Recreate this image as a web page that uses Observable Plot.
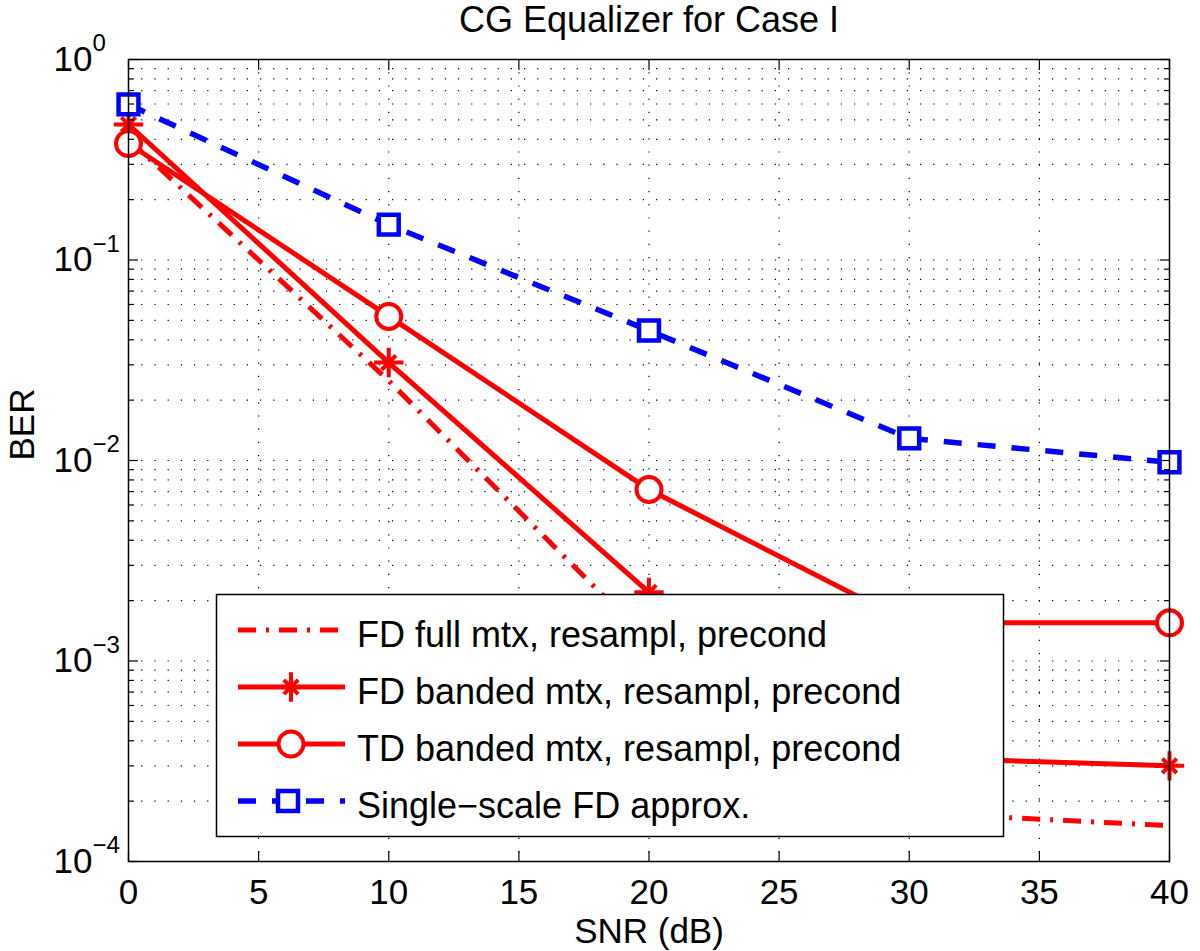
<!DOCTYPE html>
<html><head><meta charset="utf-8">
<script src="https://cdn.jsdelivr.net/npm/d3@7"></script>
<script src="https://cdn.jsdelivr.net/npm/@observablehq/plot@0.6"></script>
<style>
body{margin:0;background:#fff;}
#chart{position:relative;width:1200px;height:951px;}
</style></head><body><div id="chart"></div>
<script>
// ---- data ----
const snr = [0, 10, 20, 30, 40];
const berFdFull   = [0.40, 0.025, 0.00125, 0.000175, 0.000151];
const berFdBanded = [0.474, 0.0308, 0.0022, 0.00033, 0.00030];
const berTdBanded = [0.381, 0.0523, 0.00716, 0.00155, 0.00155];
const berSingle   = [0.597, 0.150, 0.0445, 0.0129, 0.0098];
const seriesNames = [
  "FD full mtx, resampl, precond",
  "FD banded mtx, resampl, precond",
  "TD banded mtx, resampl, precond",
  "Single\u2212scale FD approx."
];
const xTicks = [0, 5, 10, 15, 20, 25, 30, 35, 40];
const xGridTicks = [5, 10, 15, 20, 25, 30, 35];
const yDecades = [1e-4, 1e-3, 1e-2, 1e-1, 1];
const yExponents = ["\u22124", "\u22123", "\u22122", "\u22121", "0"];
const minorMultipliers = [2, 3, 4, 5, 6, 7, 8, 9];
const titleText = "CG Equalizer for Case I";
const xLabel = "SNR (dB)";
const yLabel = "BER";

const yMinor = yDecades.slice(0, -1).flatMap(d => minorMultipliers.map(m => m * d));
const yGrid = [...yMinor, ...yDecades.slice(1, -1)];

const toRows = (vals) => snr.map((s, i) => ({snr: s, ber: vals[i]}));
const rowsFull = toRows(berFdFull);
const rowsBanded = toRows(berFdBanded);
const rowsTd = toRows(berTdBanded);
const rowsSingle = toRows(berSingle);

const RED = "#ff0000", BLUE = "#0000ff";
const FONT = "'Liberation Sans', Arial, Helvetica, sans-serif";
const FS = 36, TFS = 35;
const gridStyle = {stroke: "#000", strokeOpacity: 1, strokeWidth: 1.2, strokeDasharray: "1.2,12"};
const DASH = "18,16";
const DASHDOT = "18,10,3,10";

const plot = Plot.plot({
  width: 1200, height: 951,
  marginLeft: 128, marginRight: 31, marginTop: 59, marginBottom: 90,
  style: {fontFamily: FONT, background: "#fff"},
  x: {domain: [0, 40], axis: null},
  y: {type: "log", domain: [1e-4, 1], axis: null},
  marks: [
    Plot.gridX(xGridTicks, gridStyle),
    Plot.gridY(yGrid, gridStyle),
    Plot.line(rowsFull, {x: "snr", y: "ber", stroke: RED, strokeWidth: 5, strokeDasharray: DASHDOT, strokeLinecap: "butt"}),
    Plot.line(rowsBanded, {x: "snr", y: "ber", stroke: RED, strokeWidth: 5}),
    Plot.line(rowsTd, {x: "snr", y: "ber", stroke: RED, strokeWidth: 5}),
    Plot.line(rowsSingle, {x: "snr", y: "ber", stroke: BLUE, strokeWidth: 5.5, strokeDasharray: DASH, strokeLinecap: "butt"}),
    Plot.dot(rowsBanded, {x: "snr", y: "ber", symbol: "plus", r: 9.5, stroke: RED, strokeWidth: 4}),
    Plot.dot(rowsBanded, {x: "snr", y: "ber", symbol: "times", r: 6.6, stroke: RED, strokeWidth: 4}),
    Plot.dot(rowsTd, {x: "snr", y: "ber", symbol: "circle", r: 12.5, stroke: RED, fill: "#fff", strokeWidth: 4}),
    Plot.dot(rowsSingle, {x: "snr", y: "ber", symbol: "square", r: 11.2, stroke: BLUE, fill: "#fff", strokeWidth: 4.5}),
    Plot.frame({stroke: "#000", strokeWidth: 1.5}),
    // inward ticks
    Plot.axisX(xTicks, {anchor: "bottom", tickSize: 10, dy: -10, tickFormat: () => "", label: null, strokeWidth: 1.2}),
    Plot.axisX(xTicks, {anchor: "top", tickSize: 10, dy: 10, tickFormat: () => "", label: null, strokeWidth: 1.2}),
    Plot.axisY(yDecades, {anchor: "left", tickSize: 10, dx: 10, tickFormat: () => "", label: null, strokeWidth: 1.2}),
    Plot.axisY(yDecades, {anchor: "right", tickSize: 10, dx: -10, tickFormat: () => "", label: null, strokeWidth: 1.2}),
    Plot.axisY(yMinor, {anchor: "left", tickSize: 6, dx: 6, tickFormat: () => "", label: null, strokeWidth: 1.2}),
    Plot.axisY(yMinor, {anchor: "right", tickSize: 6, dx: -6, tickFormat: () => "", label: null, strokeWidth: 1.2}),
    // tick labels
    Plot.text(xTicks, {x: d => d, frameAnchor: "bottom", dy: 31, text: d => String(d), fontSize: TFS, lineAnchor: "middle", fill: "#000"}),
    Plot.text(yDecades, {y: d => d, frameAnchor: "left", dx: -75, text: () => "10", textAnchor: "start", fontSize: TFS, lineAnchor: "middle", fill: "#000"}),
    Plot.text(yDecades, {y: d => d, frameAnchor: "left", dx: -36, dy: -16, text: (d, i) => yExponents[i], textAnchor: "start", fontSize: 24, lineAnchor: "middle", fill: "#000"}),
    // titles
    Plot.text([titleText], {frameAnchor: "top", dy: -39, text: d => d, fontSize: FS, lineAnchor: "middle", fill: "#000"}),
    Plot.text([xLabel], {frameAnchor: "bottom", dy: 70, text: d => d, fontSize: TFS, lineAnchor: "middle", fill: "#000"}),
    Plot.text([yLabel], {frameAnchor: "left", dx: -106, rotate: -90, text: d => d, fontSize: TFS, lineAnchor: "middle", fill: "#000"})
  ]
});
document.getElementById("chart").appendChild(plot);

// ---- legend (drawn into the SVG) ----
const svg = d3.select(plot);
const lg = svg.append("g").attr("font-family", FONT).attr("text-anchor", "start");
const box = {x: 216.5, y: 594.5, w: 787, h: 242};
lg.append("rect").attr("x", box.x).attr("y", box.y).attr("width", box.w).attr("height", box.h)
  .attr("fill", "#fff").attr("stroke", "#000").attr("stroke-width", 1.5);
const rowY = [630, 687, 744, 801];
const lx1 = 238, lx2 = 345, lxm = 291, tx = 357;
const legendStyles = [
  {stroke: RED, dash: DASHDOT, sw: 5, marker: null},
  {stroke: RED, dash: null, sw: 5, marker: "star"},
  {stroke: RED, dash: null, sw: 5, marker: "circle"},
  {stroke: BLUE, dash: DASH, sw: 5.5, marker: "square"}
];
legendStyles.forEach((s, i) => {
  const y = rowY[i];
  const ln = lg.append("line").attr("x1", lx1).attr("x2", lx2).attr("y1", y).attr("y2", y)
    .attr("stroke", s.stroke).attr("stroke-width", s.sw).attr("stroke-linecap", "butt");
  if (s.dash) ln.attr("stroke-dasharray", s.dash);
  if (s.marker === "star") {
    lg.append("path").attr("d", d3.symbol(d3.symbolPlus, Math.PI * 9.5 * 9.5)())
      .attr("transform", `translate(${lxm},${y})`).attr("fill", "none").attr("stroke", RED).attr("stroke-width", 4);
    lg.append("path").attr("d", d3.symbol(d3.symbolTimes, Math.PI * 6.6 * 6.6)())
      .attr("transform", `translate(${lxm},${y})`).attr("fill", "none").attr("stroke", RED).attr("stroke-width", 4);
  } else if (s.marker === "circle") {
    lg.append("circle").attr("cx", lxm).attr("cy", y).attr("r", 12.5)
      .attr("fill", "#fff").attr("stroke", RED).attr("stroke-width", 4);
  } else if (s.marker === "square") {
    lg.append("rect").attr("x", lxm - 3 - 10).attr("y", y - 10).attr("width", 20).attr("height", 20)
      .attr("fill", "#fff").attr("stroke", BLUE).attr("stroke-width", 4.5);
  }
  lg.append("text").attr("x", tx).attr("y", y + 17).attr("font-size", FS).attr("fill", "#000")
    .attr("text-anchor", "start").text(seriesNames[i]);
});
</script></body></html>
